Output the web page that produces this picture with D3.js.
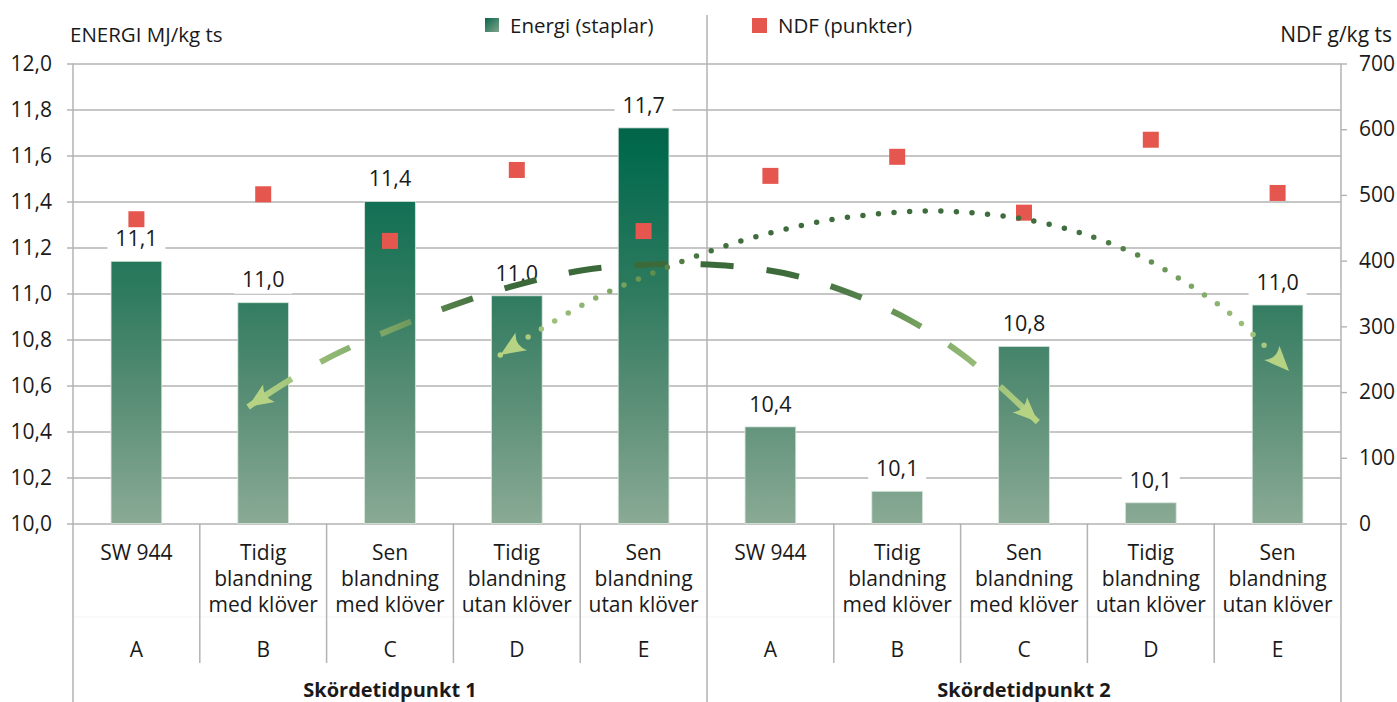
<!DOCTYPE html>
<html><head><meta charset="utf-8">
<script src="https://cdn.jsdelivr.net/npm/d3@7"></script>
<style>
body{margin:0;background:#fff}
text{font-family:"Open Sans","Noto Sans",sans-serif;fill:#1a1a1a}
</style>
</head><body>
<svg id="c" width="1397" height="702"></svg>
<script>
// ---------- DATA ----------
const categoryLines = [
  ["SW 944"], ["Tidig","blandning","med klöver"], ["Sen","blandning","med klöver"],
  ["Tidig","blandning","utan klöver"], ["Sen","blandning","utan klöver"],
  ["SW 944"], ["Tidig","blandning","med klöver"], ["Sen","blandning","med klöver"],
  ["Tidig","blandning","utan klöver"], ["Sen","blandning","utan klöver"]
];
const letters = ["A","B","C","D","E","A","B","C","D","E"];
const groups = ["Skördetidpunkt 1","Skördetidpunkt 2"];
const energy = [11.14, 10.96, 11.40, 10.99, 11.72, 10.42, 10.14, 10.77, 10.09, 10.95];
const energyLabels = ["11,1","11,0","11,4","11,0","11,7","10,4","10,1","10,8","10,1","11,0"];
const ndf = [463, 501, 430, 538, 445, 529, 558, 473, 584, 503];
const energyTicks = [10.0,10.2,10.4,10.6,10.8,11.0,11.2,11.4,11.6,11.8,12.0];
const ndfTicks = [0,100,200,300,400,500,600,700];
// trend curves: [category position, energy value]
const trendDashed = [[0.881,10.507],[1.221,10.628],[1.560,10.733],[2.041,10.850],[2.523,10.954],
  [3.028,11.041],[3.533,11.102],[4.054,11.126],[4.575,11.124],[5.104,11.089],[5.601,11.007],
  [6.083,10.889],[6.517,10.733],[6.816,10.593],[7.109,10.441]];
const trendDotted = [[2.870,10.733],[3.091,10.811],[3.312,10.885],[3.652,10.989],[3.999,11.072],
  [4.354,11.150],[4.717,11.220],[5.088,11.276],[5.467,11.320],[5.846,11.346],[6.233,11.359],
  [6.611,11.350],[6.998,11.324],[7.369,11.276],[7.606,11.233],[7.961,11.150],[8.293,11.041],
  [8.608,10.920],[8.892,10.776],[9.090,10.663]];

// ---------- LAYOUT ----------
const P = {left:73, right:1341, top:63.5, bottom:523.5};
const svg = d3.select("#c");
const defs = svg.append("defs");
const x = d3.scaleBand().domain(d3.range(energy.length)).range([P.left,P.right]).paddingInner(0.6).paddingOuter(0.3);
const xc = d3.scaleLinear().domain([-0.5, energy.length-0.5]).range([P.left,P.right]);
const yE = d3.scaleLinear().domain([10,12]).range([P.bottom,P.top]);
const yN = d3.scaleLinear().domain([0,700]).range([P.bottom,P.top]);
const gridCol = "#b3b3b3";
const FS = 21;

// gradients
const bg = defs.append("linearGradient").attr("id","barG").attr("gradientUnits","userSpaceOnUse")
  .attr("x1",0).attr("x2",0).attr("y1",yE(12)).attr("y2",yE(10));
[[0,"#00553c"],[0.2,"#036a4e"],[0.5,"#2f7b5f"],[0.75,"#5d9078"],[1,"#8aaa95"]]
  .forEach(s=>bg.append("stop").attr("offset",s[0]).attr("stop-color",s[1]));
const lg = defs.append("linearGradient").attr("id","legG").attr("x1",0).attr("y1",0).attr("x2",1).attr("y2",1);
[[0,"#0a6549"],[1,"#7fa58d"]].forEach(s=>lg.append("stop").attr("offset",s[0]).attr("stop-color",s[1]));

// grid lines (with ticks extending beyond left axis)
svg.append("g").attr("transform",`translate(${P.left-6},0)`)
  .call(d3.axisRight(yE).tickValues(energyTicks).tickSize(P.right-P.left+6).tickFormat(""))
  .call(g=>g.select(".domain").remove())
  .call(g=>g.selectAll("line").attr("stroke",gridCol).attr("stroke-width",1.4));

// left labels
svg.append("g").attr("transform",`translate(${P.left},0)`)
  .call(d3.axisLeft(yE).tickValues(energyTicks).tickSize(6).tickPadding(15)
    .tickFormat(d=>d.toFixed(1).replace(".",",")))
  .call(g=>g.select(".domain").remove())
  .call(g=>g.selectAll("line").remove())
  .call(g=>g.selectAll("text").attr("font-size",FS).attr("font-family","Open Sans").attr("fill","#1a1a1a"));

// right axis
svg.append("g").attr("transform",`translate(${P.right},0)`)
  .call(d3.axisRight(yN).tickValues(ndfTicks).tickSize(6).tickPadding(12))
  .call(g=>g.select(".domain").remove())
  .call(g=>g.selectAll("line").attr("stroke",gridCol).attr("stroke-width",1.4))
  .call(g=>g.selectAll("text").attr("font-size",FS).attr("font-family","Open Sans").attr("fill","#1a1a1a"));

// faint line in category area
svg.append("line").attr("x1",P.left).attr("x2",P.right).attr("y1",617).attr("y2",617)
  .attr("stroke","#f4f4f4").attr("stroke-width",1);

// vertical lines
const vl = (xx,y1,y2)=>svg.append("line").attr("x1",xx).attr("x2",xx).attr("y1",y1).attr("y2",y2)
  .attr("stroke",gridCol).attr("stroke-width",1.5);
vl(P.left,P.top,702); vl(P.right,P.top,702); vl(xc(4.5),15,702);
[1,2,3,4,6,7,8,9].forEach(k=>vl(xc(k-0.5),P.bottom,663));

// bars
svg.append("g").selectAll("rect").data(energy).join("rect")
  .attr("x",(d,i)=>x(i)).attr("width",x.bandwidth())
  .attr("y",d=>yE(d)).attr("height",d=>yE(10)-yE(d))
  .attr("fill","url(#barG)").attr("stroke","#d6e4da").attr("stroke-width",0.8);

// data labels
const lab = svg.append("g").selectAll("g").data(energy).join("g")
  .attr("transform",(d,i)=>`translate(${x(i)+x.bandwidth()/2},${yE(d)-23})`);
lab.append("rect").attr("x",-29).attr("y",-14).attr("width",58).attr("height",28).attr("fill","#fff");
lab.append("text").attr("text-anchor","middle").attr("dy","0.36em").attr("font-size",FS+0.5)
  .text((d,i)=>energyLabels[i]);

// NDF squares
svg.append("g").selectAll("rect").data(ndf).join("rect")
  .attr("x",(d,i)=>x(i)+x.bandwidth()/2-8).attr("y",d=>yN(d)-8)
  .attr("width",16).attr("height",16).attr("fill","#e5564f");

// trend curves
function pathGrad(id, pts, stops){
  const x1 = xc(d3.min(pts,p=>p[0])), x2 = xc(d3.max(pts,p=>p[0]));
  const g = defs.append("linearGradient").attr("id",id).attr("gradientUnits","userSpaceOnUse")
    .attr("x1",x1).attr("x2",x2).attr("y1",0).attr("y2",0);
  stops.forEach(s=>g.append("stop").attr("offset",(s[0]-x1)/(x2-x1)).attr("stop-color",s[1]));
}
pathGrad("dashG", trendDashed, [[248,"#b7d585"],[334,"#8fb673"],[395,"#78a262"],[456,"#4e7b46"],
  [520,"#3b6939"],[780,"#3d6a3b"],[846,"#4e7b47"],[907,"#6e9a5a"],[962,"#90b673"],[1037,"#b3d283"]]);
pathGrad("dotG", trendDotted, [[500,"#b5d383"],[528,"#a9c981"],[600,"#86ae6c"],[650,"#62904f"],
  [703,"#44713f"],[760,"#3d6b3c"],[1070,"#3f6d3e"],[1131,"#55834a"],[1187,"#79a462"],
  [1227,"#92b873"],[1263,"#a6c67f"],[1288,"#b5d383"]]);

const line = d3.line().x(d=>xc(d[0])).y(d=>yE(d[1])).curve(d3.curveCatmullRom.alpha(0.5));
const tg = svg.append("g");

function arrowHead(node, atEnd){
  const L = node.getTotalLength();
  const a = node.getPointAtLength(atEnd ? L : 0);
  const b = node.getPointAtLength(atEnd ? L-18 : 18);
  let dx=a.x-b.x, dy=a.y-b.y; const n=Math.hypot(dx,dy); dx/=n; dy/=n;
  const len=25, hw=10.5, notch=8;
  const bx=a.x-dx*len, by=a.y-dy*len;
  const nx=a.x-dx*(len-notch), ny=a.y-dy*(len-notch);
  const c1=[bx-dy*hw, by+dx*hw], c2=[bx+dy*hw, by-dx*hw];
  tg.append("path").attr("d",`M${a.x},${a.y}L${c1[0]},${c1[1]}Q${nx},${ny} ${c2[0]},${c2[1]}Z`)
    .attr("fill","#b5d383");
}

// dashed
const dp = tg.append("path").attr("d",line(trendDashed)).attr("fill","none")
  .attr("stroke","url(#dashG)").attr("stroke-width",6);
{
  const L = dp.node().getTotalLength(), end=52;
  const M = L - 2*end; const n = Math.max(1,Math.round((M/33 - 1)/2)); const u = M/(2*n+1);
  const arr=[end]; for(let i=0;i<n;i++){arr.push(u,u);} arr.push(u,end);
  dp.attr("stroke-dasharray",arr.join(","));
  arrowHead(dp.node(), false); arrowHead(dp.node(), true);
}
// dotted
const op = tg.append("path").attr("d",line(trendDotted)).attr("fill","none")
  .attr("stroke","url(#dotG)").attr("stroke-width",5.5).attr("stroke-linecap","round");
{
  const L = op.node().getTotalLength(), s0=33, s1=36;
  const n = Math.round((L-s0-s1)/15.5); const s=(L-s0-s1)/n;
  const arr=[0,s0]; for(let i=0;i<n;i++){arr.push(0,s);} arr.push(0,L);
  op.attr("stroke-dasharray",arr.join(","));
  arrowHead(op.node(), false); arrowHead(op.node(), true);
}

// category labels
const cl = svg.append("g").selectAll("text").data(categoryLines).join("text")
  .attr("text-anchor","middle").attr("font-size",FS)
  .attr("transform",(d,i)=>`translate(${x(i)+x.bandwidth()/2},0)`);
cl.selectAll("tspan").data(d=>d).join("tspan").attr("x",0).attr("y",(d,j)=>560+26*j).text(d=>d);
svg.append("g").selectAll("text").data(letters).join("text")
  .attr("text-anchor","middle").attr("font-size",FS)
  .attr("x",(d,i)=>x(i)+x.bandwidth()/2).attr("y",657).text(d=>d);
svg.append("g").selectAll("text").data(groups).join("text")
  .attr("text-anchor","middle").attr("font-size",20).attr("font-weight","bold")
  .attr("x",(d,i)=>(xc(i*5-0.5)+xc(i*5+4.5))/2).attr("y",697).text(d=>d);

// axis titles
svg.append("text").attr("x",70).attr("y",42).attr("font-size",20.5).text("ENERGI MJ/kg ts");
svg.append("text").attr("x",1392).attr("y",42).attr("font-size",21).attr("text-anchor","end").text("NDF g/kg ts");

// legend
svg.append("rect").attr("x",485).attr("y",18).attr("width",14).attr("height",14).attr("fill","url(#legG)");
svg.append("text").attr("x",510).attr("y",33).attr("font-size",20.5).text("Energi (staplar)");
svg.append("rect").attr("x",752).attr("y",18).attr("width",15).attr("height",15).attr("fill","#e5564f");
svg.append("text").attr("x",778).attr("y",33).attr("font-size",20.5).text("NDF (punkter)");
</script>
</body></html>
